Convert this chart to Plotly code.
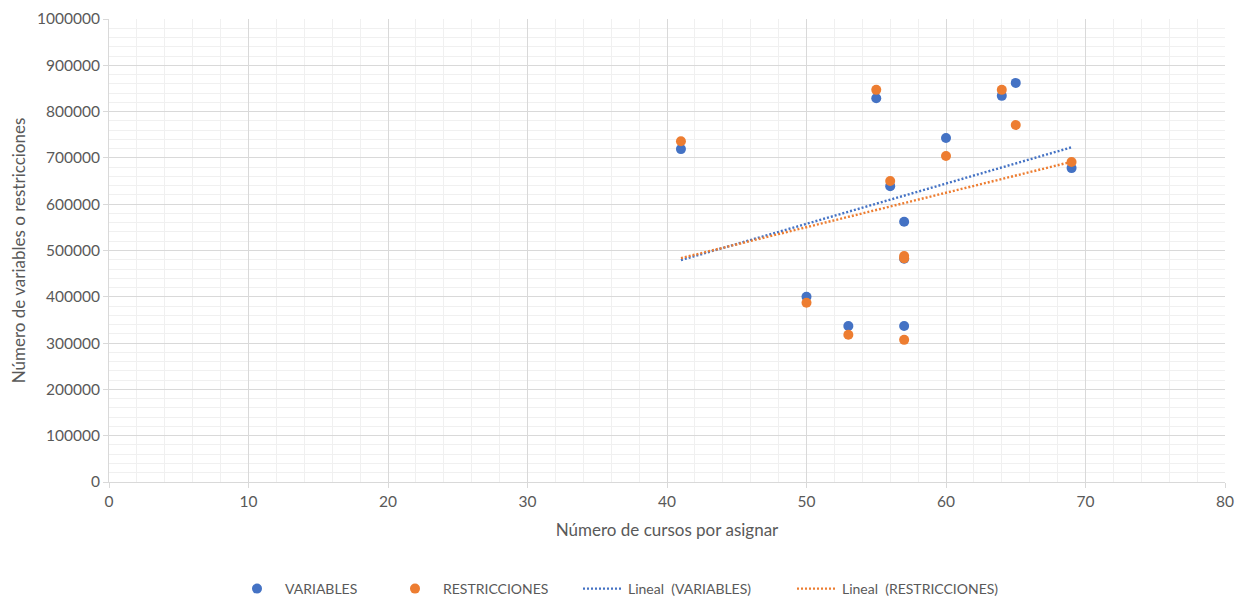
import numpy as np
import plotly.graph_objects as go

# Data
cursos = [41, 50, 53, 55, 56, 57, 57, 57, 60, 64, 65, 69]
variables = [719000, 400000, 337000, 829000, 639000, 562000, 482000, 337000, 743000, 834000, 862000, 678000]
cursos_r = [41, 50, 53, 55, 56, 57, 57, 57, 60, 64, 65, 69]
restricciones = [736000, 387000, 318000, 847000, 650000, 488000, 483000, 307000, 704000, 847000, 771000, 691000]

BLUE = "#4472C4"
ORANGE = "#ED7D31"
FONT = "Lato"
TXT = "#595959"

def trend(x, y):
    m, b = np.polyfit(x, y, 1)
    xs = np.array([min(x), max(x)])
    return xs, m * xs + b

fig = go.Figure()
fig.add_trace(go.Scatter(x=cursos, y=variables, mode="markers", name="VARIABLES",
                         marker=dict(color=BLUE, size=10), legend="legend"))
fig.add_trace(go.Scatter(x=cursos_r, y=restricciones, mode="markers", name="RESTRICCIONES",
                         marker=dict(color=ORANGE, size=10), legend="legend2"))
tx, ty = trend(cursos, variables)
fig.add_trace(go.Scatter(x=tx, y=ty, mode="lines", name="Lineal  (VARIABLES)",
                         line=dict(color=BLUE, width=2.4, dash="2px,2px"), legend="legend3"))
tx, ty = trend(cursos_r, restricciones)
fig.add_trace(go.Scatter(x=tx, y=ty, mode="lines", name="Lineal  (RESTRICCIONES)",
                         line=dict(color=ORANGE, width=2.4, dash="2px,2px"), legend="legend4"))

axis_common = dict(
    showline=True, linecolor="#d9d9d9", linewidth=1,
    gridcolor="#d9d9d9", gridwidth=1,
    ticks="outside", tickcolor="#d9d9d9", ticklen=5,
    tickfont=dict(family=FONT, size=15.5, color=TXT),
    zeroline=False, automargin=False,
)

# page has an 8px body margin; figure sized to fit the 1245x599 window
FIG_W, FIG_H = 1237, 591
ML, MR, MT, MB = 101, 20, 11, 117

def cx(fig_px):
    return fig_px / FIG_W

LEG_Y = (FIG_H - 581) / FIG_H
leg_common = dict(orientation="h", xref="container", yref="container", y=LEG_Y,
                  yanchor="middle", xanchor="left",
                  font=dict(family=FONT, size=14, color=TXT), bgcolor="rgba(0,0,0,0)")

fig.update_layout(
    width=FIG_W, height=FIG_H,
    margin=dict(l=ML, r=MR, t=MT, b=MB, autoexpand=False),
    paper_bgcolor="white", plot_bgcolor="white",
    font=dict(family=FONT, color=TXT),
    xaxis=dict(range=[0, 80], dtick=10, tick0=0,
               minor=dict(dtick=2, showgrid=True, gridcolor="#f0f0f0"),
               title=dict(text="Número de cursos por asignar", font=dict(family=FONT, size=17, color=TXT),
                          standoff=15),
               **axis_common),
    yaxis=dict(range=[0, 1000000], dtick=100000, tick0=0, tickformat="d",
               minor=dict(dtick=20000, showgrid=True, gridcolor="#f0f0f0"),
               title=dict(text="Número de variables o restricciones", font=dict(family=FONT, size=17, color=TXT),
                          standoff=7),
               **axis_common),
    legend=dict(x=cx(221), itemwidth=46, **leg_common),
    legend2=dict(x=cx(379), itemwidth=46, **leg_common),
    legend3=dict(x=cx(570), itemwidth=40, **leg_common),
    legend4=dict(x=cx(784), itemwidth=40, **leg_common),
    showlegend=True,
)

fig.write_html("out.html")
